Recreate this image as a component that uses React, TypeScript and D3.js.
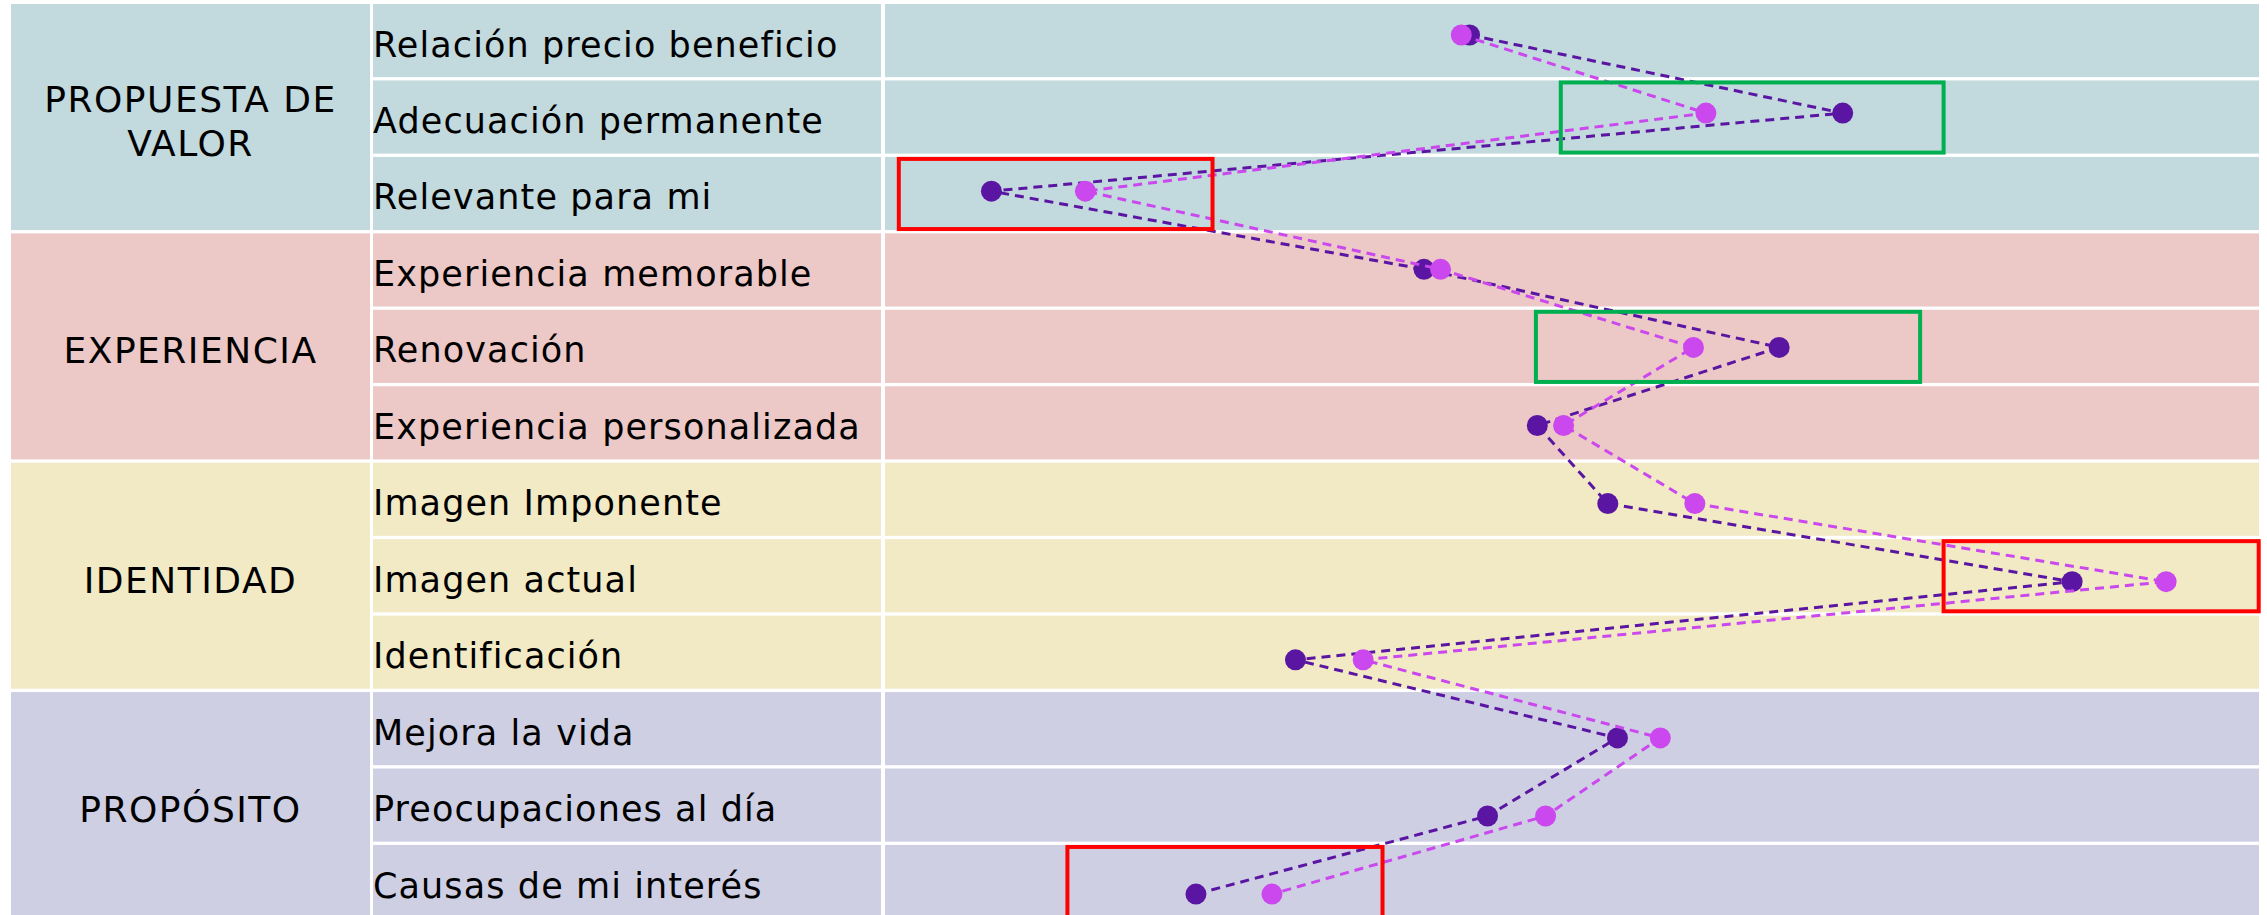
import React from "react";
import * as d3 from "d3";

const groups = ["PROPUESTA DE\nVALOR", "EXPERIENCIA", "IDENTIDAD", "PROPÓSITO"];
const groupSizes = [3, 3, 3, 3];
const groupColors = ["#c2d9dd", "#ecc8c6", "#f2eac5", "#cecfe3"];

const items = [
  "Relación precio beneficio",
  "Adecuación permanente",
  "Relevante para mi",
  "Experiencia memorable",
  "Renovación",
  "Experiencia personalizada",
  "Imagen Imponente",
  "Imagen actual",
  "Identificación",
  "Mejora la vida",
  "Preocupaciones al día",
  "Causas de mi interés",
];

const seriesDark = [42.3, 69.3, 7.7, 39.0, 64.7, 47.2, 52.3, 85.9, 29.7, 53.0, 43.6, 22.5];
const seriesLight = [41.7, 59.4, 14.5, 40.2, 58.5, 49.1, 58.6, 92.7, 34.6, 56.1, 47.8, 28.0];

// annotation boxes: [row index, x start, x end, kind]
const boxRows = [1, 2, 4, 7, 11];
const boxStart = [48.9, 1.0, 47.1, 76.6, 13.2];
const boxEnd = [76.6, 23.7, 74.9, 99.4, 36.0];
const boxKind = ["green", "red", "green", "red", "red"];

const W = 2267;
const H = 915;

export default function App() {
  const top = 4;
  const step = 76.45;
  const gap = 3.3;
  const col1 = [11, 370];
  const col2 = [373, 881];
  const col3 = [885, 2259];

  const x = d3.scaleLinear().domain([0, 100]).range([885, 2267]);
  const bandY = (i: number) => top + i * step;
  const bandH = step - gap;
  const yDot = d3
    .scalePoint<number>()
    .domain(d3.range(items.length))
    .range([35, 35 + 11 * 78.1]);

  const groupStart: number[] = [];
  let acc = 0;
  groupSizes.forEach((s) => {
    groupStart.push(acc);
    acc += s;
  });
  const rowGroup = (i: number) => {
    let g = 0;
    groupStart.forEach((s, k) => {
      if (i >= s) g = k;
    });
    return g;
  };

  const line = d3
    .line<number>()
    .x((d) => x(d))
    .y((_, i) => yDot(i) as number);

  const series = [
    { values: seriesDark, color: "#5a16a2" },
    { values: seriesLight, color: "#cb47ee" },
  ];

  const font = "'DejaVu Sans', sans-serif";

  return (
    <div style={{ position: "absolute", left: 0, top: 0 }}>
      <svg width={W} height={H} style={{ display: "block", background: "#ffffff" }}>
        {groups.map((g, k) => {
          const y0 = bandY(groupStart[k]);
          const y1 = bandY(groupStart[k] + groupSizes[k] - 1) + bandH;
          const lines = g.split("\n");
          const cy = (y0 + y1) / 2;
          const lh = 44;
          return (
            <g key={"g" + k}>
              <rect x={col1[0]} y={y0} width={col1[1] - col1[0]} height={y1 - y0} fill={groupColors[k]} />
              {lines.map((t, j) => (
                <text
                  key={j}
                  x={(col1[0] + col1[1]) / 2}
                  y={cy + (j - (lines.length - 1) / 2) * lh + 17}
                  textAnchor="middle"
                  fontFamily={font}
                  fontSize={36}
                  letterSpacing={1.5}
                  fill="#000"
                >
                  {t}
                </text>
              ))}
            </g>
          );
        })}
        {items.map((it, i) => (
          <g key={"r" + i}>
            <rect x={col2[0]} y={bandY(i)} width={col2[1] - col2[0]} height={bandH} fill={groupColors[rowGroup(i)]} />
            <rect x={col3[0]} y={bandY(i)} width={col3[1] - col3[0]} height={bandH} fill={groupColors[rowGroup(i)]} />
            <text
              x={373}
              y={bandY(i) + bandH / 2 + 16}
              fontFamily={font}
              fontSize={35}
              letterSpacing={1.1}
              fill="#000"
            >
              {it}
            </text>
          </g>
        ))}
        {series.map((s, k) => (
          <g key={"s" + k}>
            <path d={line(s.values) || ""} fill="none" stroke={s.color} strokeWidth={3} strokeDasharray="9,6" />
            {s.values.map((v, i) => (
              <circle key={i} cx={x(v)} cy={yDot(i)} r={10.5} fill={s.color} />
            ))}
          </g>
        ))}
        {boxRows.map((r, k) => (
          <rect
            key={"b" + k}
            x={x(boxStart[k])}
            y={bandY(r) + 2}
            width={x(boxEnd[k]) - x(boxStart[k])}
            height={bandH - 3}
            fill="none"
            stroke={boxKind[k] === "green" ? "#00b050" : "#ff0000"}
            strokeWidth={4}
          />
        ))}
      </svg>
    </div>
  );
}
